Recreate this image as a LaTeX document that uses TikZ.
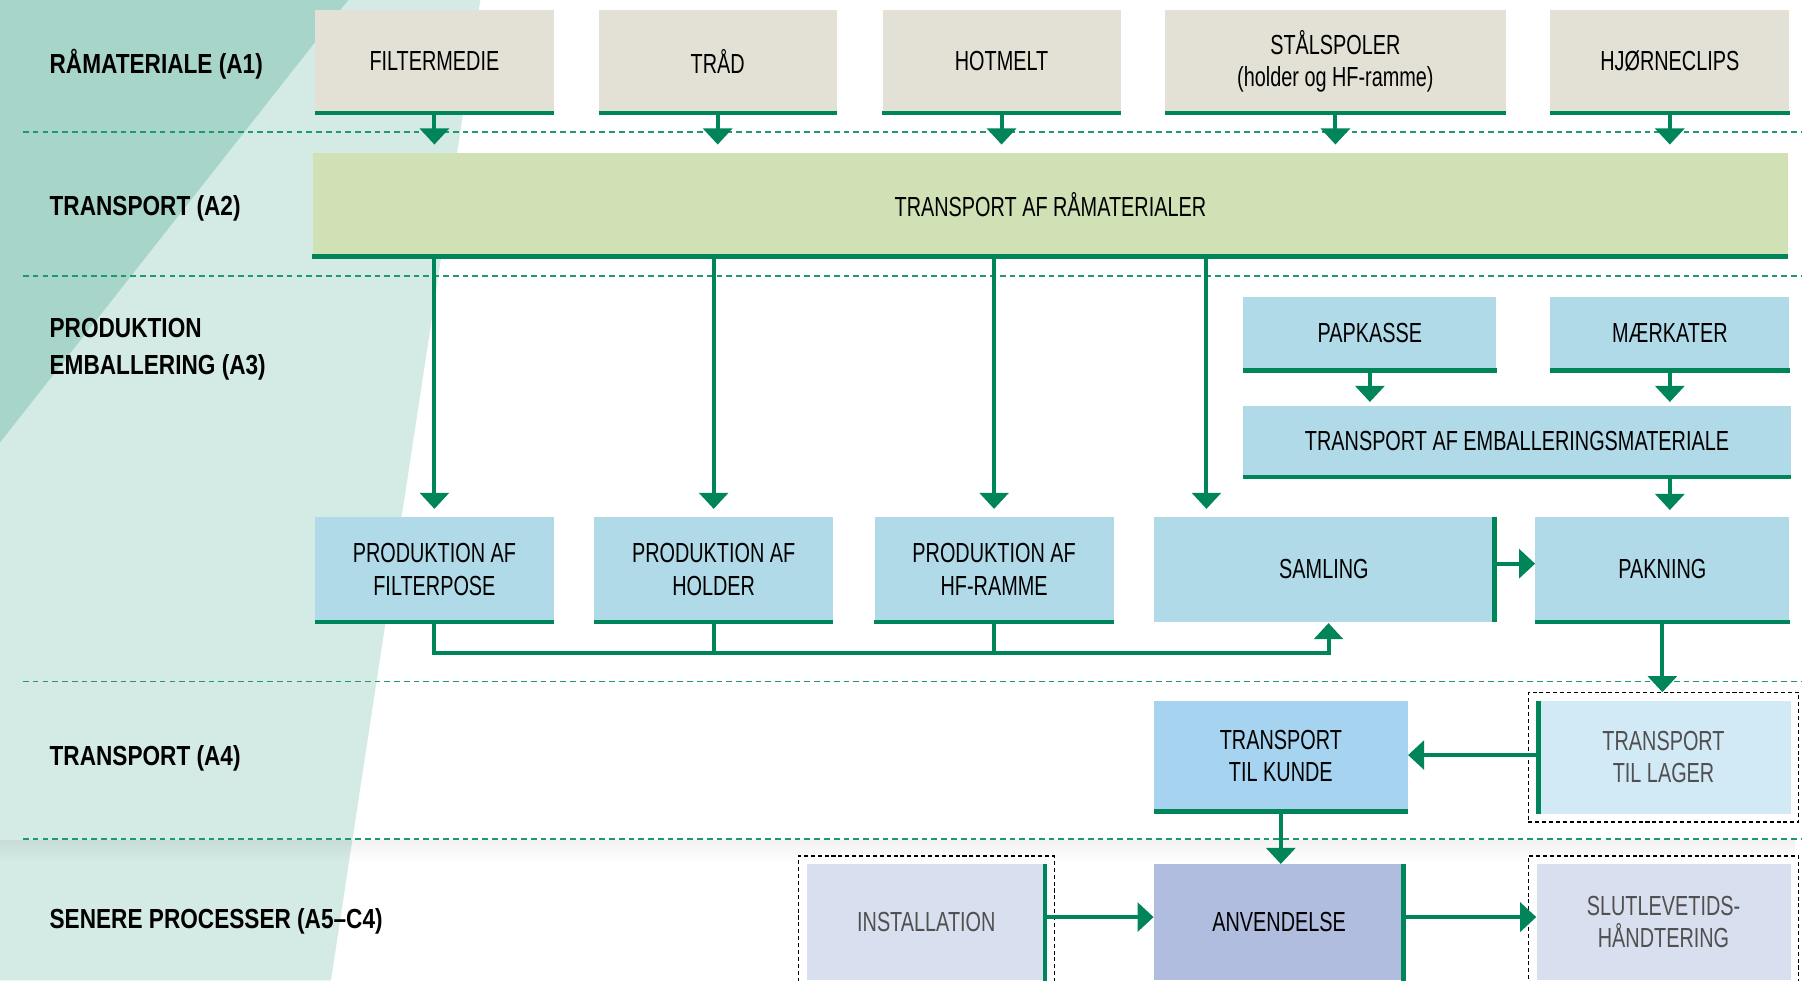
\documentclass[tikz,border=0pt]{standalone}
\usepackage{fontspec}
\setmainfont{Liberation Sans}[FakeStretch=0.72]
\newfontfamily\labfont{Liberation Sans}[FakeStretch=0.82]
\usetikzlibrary{arrows.meta,calc,fit,fadings}
\definecolor{grn}{HTML}{00845A}
\definecolor{sepc}{HTML}{1F9A6C}
\definecolor{beige}{HTML}{E3E1D6}
\definecolor{lgreen}{HTML}{CFE1B5}
\definecolor{lblue}{HTML}{B1DAE8}
\definecolor{kblue}{HTML}{A6D3EF}
\definecolor{pblue}{HTML}{D2E9F6}
\definecolor{lav}{HTML}{D8DFEE}
\definecolor{anvc}{HTML}{B0BDDF}
\definecolor{tealdark}{HTML}{A7D5C9}
\definecolor{teallight}{HTML}{D4EAE4}
\definecolor{gtext}{HTML}{505050}
\tikzset{
  box/.style={inner sep=0pt, align=center, font=\fontsize{24}{28}\selectfont, text=black},
  graybox/.style={box, text=gtext},
  rowlabel/.style={anchor=west, align=left, inner sep=0pt, font=\labfont\bfseries\fontsize{24}{32}\selectfont},
  bar/.style={draw=grn, line width=4pt},
  line/.style={draw=grn, line width=3.5pt},
  arr/.style={draw=grn, line width=3.5pt, -{Triangle[width=25pt,length=14pt]}},
  sepline/.style={draw=sepc, line width=1.2pt, dash pattern=on 5pt off 3.5pt},
  dashbox/.style={draw=black, line width=1pt, dash pattern=on 3.5pt off 2.5pt, inner sep=7pt},
}
\begin{document}
\begin{tikzpicture}[x=1pt,y=-1pt]
\useasboundingbox (0,0) rectangle (1568,853);
\clip (0,0) rectangle (1568,853);
\fill[white] (0,0) rectangle (1568,853);
% background wedges
\fill[teallight] (0,0) -- (418,0) -- (288,853) -- (0,853) -- cycle;
\fill[tealdark] (0,0) -- (303,0) -- (0,385) -- cycle;
\fill[black, opacity=0.05, path fading=south] (0,731) rectangle (1568,750);
% separators
\draw[sepline] (20,115) -- (1568,115);
\draw[sepline] (20,240) -- (1568,240);
\draw[sepline] (20,593) -- (1568,593);
\draw[sepline] (20,730) -- (1568,730);
% row labels
\node[rowlabel] (l1) at (43,56) {RÅMATERIALE (A1)};
\node[rowlabel] (l2) at (43,181) {TRANSPORT (A2)};
\node[rowlabel] (l3) at (43,304) {PRODUKTION\\EMBALLERING (A3)};
\node[rowlabel] (l4) at (43,660) {TRANSPORT (A4)};
\node[rowlabel] (l5) at (43,802) {SENERE PROCESSER (A5–C4)};
% row A1
\node[box, fill=beige, minimum width=208pt, minimum height=89pt] (fm) at (378,53.5) {FILTERMEDIE};
\node[box, fill=beige, minimum width=207pt, minimum height=89pt] (trd) at (624.5,53.5) {TRÅD};
\node[box, fill=beige, minimum width=207pt, minimum height=89pt] (hot) at (871.5,53.5) {HOTMELT};
\node[box, fill=beige, minimum width=296pt, minimum height=89pt] (stal) at (1162,53.5) {STÅLSPOLER\\(holder og HF-ramme)};
\node[box, fill=beige, minimum width=208pt, minimum height=89pt] (hj) at (1453,53.5) {HJØRNECLIPS};
\foreach \n in {fm,trd,hot,stal,hj} \draw[bar] (\n.south west) -- (\n.south east);
% row A2
\node[box, fill=lgreen, minimum width=1284pt, minimum height=90pt] (tr) at (914,178) {TRANSPORT AF RÅMATERIALER};
\draw[bar] (tr.south west) -- (tr.south east);
% packaging materials
\node[box, fill=lblue, minimum width=220pt, minimum height=64pt] (pk) at (1192,290) {PAPKASSE};
\node[box, fill=lblue, minimum width=208pt, minimum height=64pt] (mk) at (1453,290) {MÆRKATER};
\node[box, fill=lblue, minimum width=476pt, minimum height=62pt] (te) at (1320,384) {TRANSPORT AF EMBALLERINGSMATERIALE};
\foreach \n in {pk,mk,te} \draw[bar] (\n.south west) -- (\n.south east);
% row A3
\node[box, fill=lblue, minimum width=208pt, minimum height=91pt] (pf) at (378,495.5) {PRODUKTION AF\\FILTERPOSE};
\node[box, fill=lblue, minimum width=208pt, minimum height=91pt] (ph) at (621,495.5) {PRODUKTION AF\\HOLDER};
\node[box, fill=lblue, minimum width=208pt, minimum height=91pt] (pr) at (865,495.5) {PRODUKTION AF\\HF-RAMME};
\node[box, fill=lblue, minimum width=296pt, minimum height=91pt] (sam) at (1152,495.5) {SAMLING};
\node[box, fill=lblue, minimum width=221pt, minimum height=91pt] (pak) at (1446.5,495.5) {PAKNING};
\foreach \n in {pf,ph,pr,pak} \draw[bar] (\n.south west) -- (\n.south east);
\draw[bar] (sam.north east) -- (sam.south east);
% row A4
\node[box, fill=kblue, minimum width=221pt, minimum height=96pt] (kun) at (1114.5,658) {TRANSPORT\\TIL KUNDE};
\draw[bar] (kun.south west) -- (kun.south east);
\node[graybox, fill=pblue, minimum width=221pt, minimum height=98pt] (lag) at (1447.5,659) {TRANSPORT\\TIL LAGER};
\draw[bar] ($(lag.north west)+(2,0)$) -- ($(lag.south west)+(2,0)$);
\node[dashbox, fit=(lag)] (lagf) {};
% row A5
\node[graybox, fill=lav, minimum width=208pt, minimum height=101pt] (ins) at (806,802.5) {INSTALLATION};
\draw[bar] ($(ins.north east)+(-1,0)$) -- ($(ins.south east)+(-1,0)$);
\node[dashbox, fit=(ins)] (insf) {};
\node[box, fill=anvc, minimum width=218pt, minimum height=101pt] (anv) at (1113,802.5) {ANVENDELSE};
\draw[bar] ($(anv.north east)+(-1,0)$) -- ($(anv.south east)+(-1,0)$);
\node[graybox, fill=lav, minimum width=221pt, minimum height=101pt] (slut) at (1447.5,802.5) {SLUTLEVETIDS-\\HÅNDTERING};
\node[dashbox, fit=(slut)] (slutf) {};
% connectors A1 -> A2
\foreach \n in {fm,trd,hot,stal,hj} \draw[arr, shorten >=7pt] (\n.south) -- (\n.south |- tr.north);
% A2 -> A3
\foreach \n in {pf,ph,pr} \draw[arr, shorten >=7pt] (tr.south -| \n.north) -- (\n.north);
\coordinate (samin) at ($(sam.north west)+(46,0)$);
\draw[arr, shorten >=7pt] (tr.south -| samin) -- (samin);
% packaging
\draw[arr, shorten >=3pt] (pk.south) -- (pk.south |- te.north);
\draw[arr, shorten >=3pt] (mk.south) -- (mk.south |- te.north);
\draw[arr, shorten >=6pt] (te.south -| mk.south) -- (mk.south |- pak.north);
% collector to SAMLING
\coordinate (bend) at (1156,568);
\draw[arr, shorten >=1pt] (pf.south) |- (bend) -- (bend |- sam.south);
\draw[line] (ph.south) -- (ph.south |- bend);
\draw[line] (pr.south) -- (pr.south |- bend);
% SAMLING -> PAKNING
\draw[arr] ($(sam.east)+(1,-5)$) -- ($(sam.east -| pak.west)+(0,-5)$);
% PAKNING -> LAGER
\draw[arr] (pak.south) -- (pak.south |- lagf.north);
% LAGER -> KUNDE
\draw[arr] ($(lag.west)+(2,-2)$) -- ($(lag.west -| kun.east)+(0,-2)$);
% KUNDE -> ANVENDELSE
\draw[arr] (kun.south) -- (kun.south |- anv.north);
% A5 arrows
\draw[arr] ($(ins.east)+(-1,-4.5)$) -- ($(ins.east -| anv.west)+(0,-4.5)$);
\draw[arr] ($(anv.east)+(-1,-4.5)$) -- ($(anv.east -| slut.west)+(0,-4.5)$);
\end{tikzpicture}
\end{document}
